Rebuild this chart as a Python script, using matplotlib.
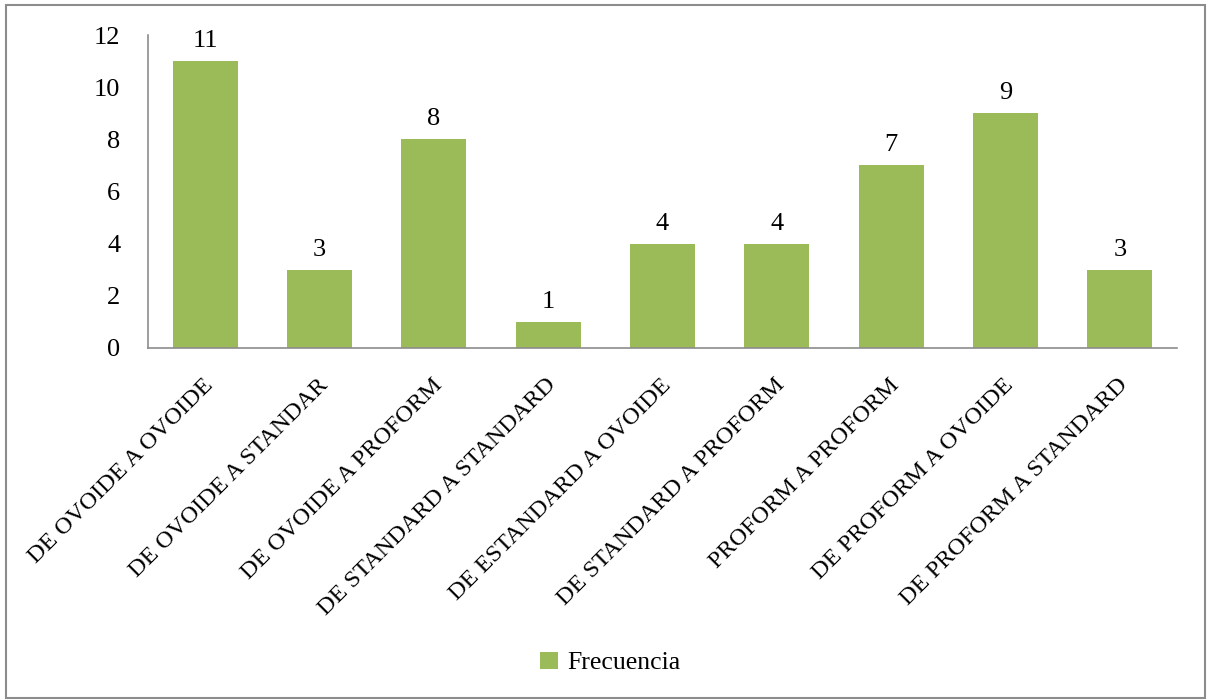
import numpy as np
import matplotlib.pyplot as plt
from matplotlib.patches import Rectangle
import matplotlib.transforms as mtransforms

categorias = ['DE OVOIDE A OVOIDE', 'DE OVOIDE A STANDAR', 'DE OVOIDE A PROFORM',
              'DE STANDARD A STANDARD', 'DE ESTANDARD A OVOIDE', 'DE STANDARD A PROFORM',
              'PROFORM A PROFORM', 'DE PROFORM A OVOIDE', 'DE PROFORM A STANDARD']
frecuencia = [11, 3, 8, 1, 4, 4, 7, 9, 3]

plt.rcParams['font.family'] = ['Liberation Serif', 'DejaVu Serif']
verde = '#9BBB59'

fig = plt.figure(figsize=(12.07, 7), dpi=100)
ax = fig.add_axes([148/1207, 1-348/700, (1177-148)/1207, (348-35)/700])

x = np.arange(len(categorias))
barras = ax.bar(x, frecuencia, width=0.57, color=verde, label='Frecuencia')

# Etiquetas de valor encima de cada barra
for xi, v in zip(x, frecuencia):
    ax.text(xi, v + 0.35, str(v), ha='center', va='bottom', fontsize=19)

ax.set_xlim(-0.5, len(categorias) - 0.5)
ax.set_ylim(0, 12)
ax.set_yticks(range(0, 13, 2))
ax.tick_params(axis='y', length=0, pad=20, labelsize=19)
ax.tick_params(axis='x', length=0)

ax.set_xticks(x)
ax.set_xticklabels(categorias, rotation=45, ha='right', va='center',
                   rotation_mode='anchor', fontsize=17.5)
offset = mtransforms.ScaledTranslation(0.05, -0.29, fig.dpi_scale_trans)
for lbl in ax.get_xticklabels():
    lbl.set_transform(lbl.get_transform() + offset)

for s in ['top', 'right']:
    ax.spines[s].set_visible(False)
for s in ['left', 'bottom']:
    ax.spines[s].set_color('#8c8c8c')
    ax.spines[s].set_linewidth(1.2)

fig.legend(handles=[barras], labels=['Frecuencia'], loc='center',
           bbox_to_anchor=(610/1207, 1-663/700), frameon=False, fontsize=18.5,
           handlelength=0.7, handleheight=0.7, handletextpad=0.35)

# Borde del gráfico
fig.patches.append(Rectangle((6/1207, 2/700), 1199/1207, 693/700, transform=fig.transFigure,
                             fill=False, edgecolor='#8c8c8c', linewidth=1.5))

plt.savefig('out.png', dpi=100)
